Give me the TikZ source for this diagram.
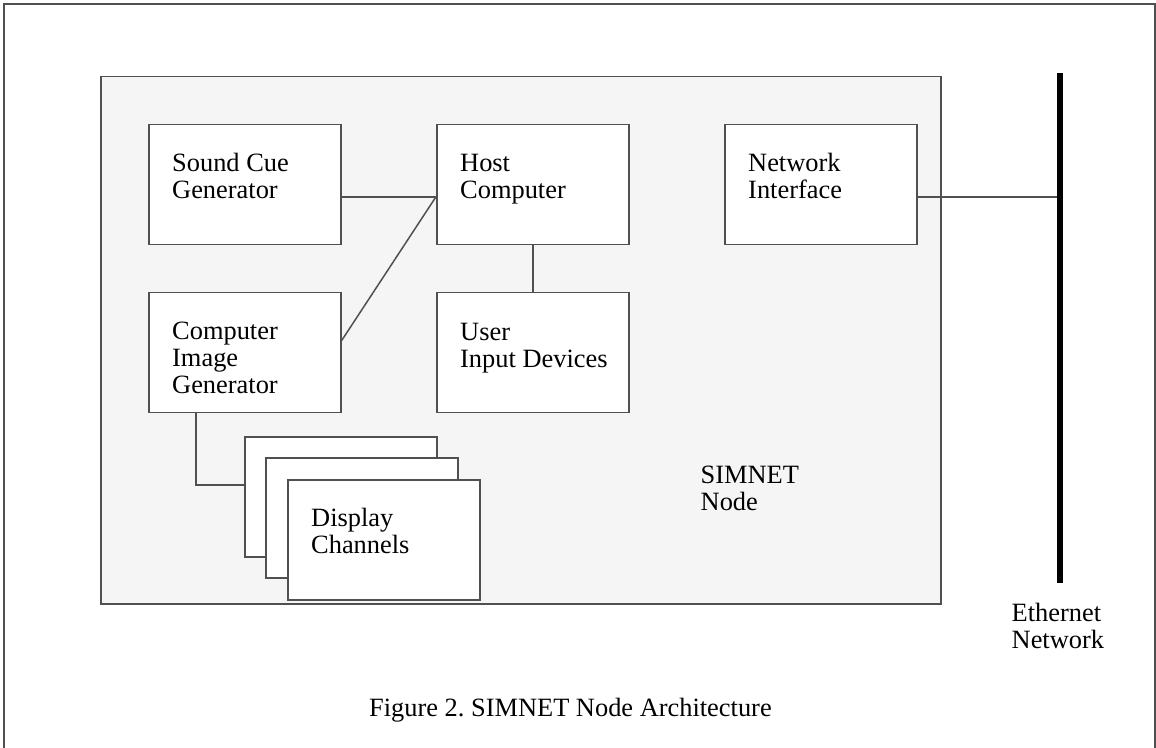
\documentclass[tikz,border=0pt]{standalone}
\usepackage{fontspec}
\setmainfont{Liberation Serif}
\frenchspacing
\definecolor{edgegray}{HTML}{505050}
\definecolor{panelgray}{HTML}{F5F5F5}
\begin{document}
\begin{tikzpicture}[x=1pt,y=-1pt,
  unit/.style={draw=edgegray, fill=white, line width=1.5pt, minimum width=192pt,
    minimum height=120pt, inner sep=0pt, anchor=north west},
  % multi-line labels: the base anchor sits on the last line
  lbl/.style={anchor=base west, inner sep=0pt, align=left,
    font=\fontsize{26.4}{27}\selectfont},
  conn/.style={draw=edgegray, line width=1.5pt}]
\useasboundingbox (0,0) rectangle (1156,747);

% outer frame (open at the bottom)
\draw[edgegray, line width=2pt] (3.5,748) -- (3.5,4) -- (1154.5,4) -- (1154.5,748);

% SIMNET node panel
\node[draw=edgegray, fill=panelgray, line width=1.5pt, minimum width=840pt,
  minimum height=527.5pt, inner sep=0pt, anchor=north west] (panel) at (100,75.5) {};

% Ethernet bus
\node[fill=black, minimum width=6.5pt, minimum height=510pt, inner sep=0pt] (ether) at (1060,328) {};

% functional units
\node[unit] (sound) at (148,123.5) {};
\node[unit] (host)  at (436,123.5) {};
\node[unit] (netif) at (724,123.5) {};
\node[unit] (cig)   at (148,291.5) {};
\node[unit] (input) at (436,291.5) {};

% stacked display channels
\node[unit] (disp1) at (244,436) {};
\node[unit] (disp2) at (265,457) {};
\node[unit] (disp3) at (287,479) {};

% unit labels
\node[lbl] (soundtxt) at ([shift={(24,75)}]sound.north west) {Sound Cue\\Generator};
\node[lbl] (hosttxt)  at ([shift={(24,75)}]host.north west) {Host\\Computer};
\node[lbl] (netiftxt) at ([shift={(24,75)}]netif.north west) {Network\\Interface};
\node[lbl] (cigtxt)   at ([shift={(24,102)}]cig.north west) {Computer\\Image\\Generator};
\node[lbl] (inputtxt) at ([shift={(24,75.5)}]input.north west) {User\\Input Devices};
\node[lbl] (disptxt)  at ([shift={(24,74)}]disp3.north west) {Display\\Channels};
\node[lbl] (paneltxt) at (700.5,510.3) {SIMNET\\Node};
\node[lbl] (ethertxt) at (1011.5,648.5) {Ethernet\\Network};
\node[lbl] (caption)  at (369,716.7) {Figure 2. SIMNET Node Architecture};

% connections
\draw[conn] ([yshift=-12.5pt]sound.east) -- ([yshift=-12.5pt]host.west);
\draw[conn] ([yshift=-12.5pt]host.west) -- ([yshift=11.5pt]cig.east);
\draw[conn] (host.south) -- (input.north);
\draw[conn] ([yshift=-12.5pt]netif.east) -- ([yshift=-12.5pt]netif.east -| ether.west);
\draw[conn] ([xshift=48pt]cig.south west) |- ([yshift=12pt]disp1.west);
\end{tikzpicture}
\end{document}
